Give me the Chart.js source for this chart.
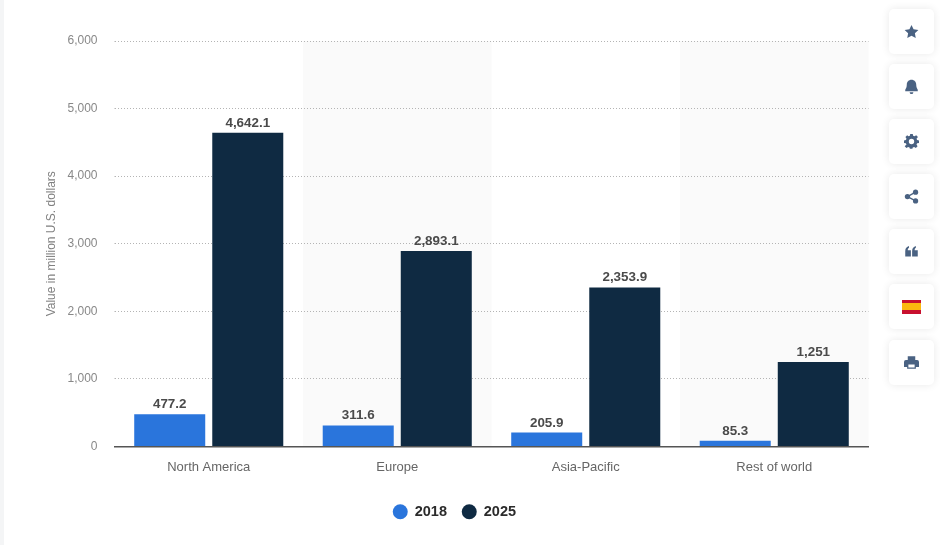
<!DOCTYPE html>
<html>
<head>
<meta charset="utf-8">
<title>Value by region</title>
<script src="https://cdn.jsdelivr.net/npm/chart.js@4"></script>
<style>
  html, body { margin: 0; padding: 0; background: #fff; width: 940px; height: 545px; overflow: hidden; }
  #strip { position: absolute; left: 0; top: 0; width: 4px; height: 545px; background: #f4f5f6; }
  #wrap { position: absolute; left: 0; top: 0; width: 940px; height: 545px; }
  .btn {
    position: absolute; left: 889px; width: 45px; height: 45px; background: #fff; border-radius: 5px;
    box-shadow: 0 0 8px rgba(0, 0, 0, .09); display: flex; align-items: center; justify-content: center;
  }
  .btn svg { width: 15px; height: 15px; fill: #4a6282; display: block; }
  .flag { width: 19px; height: 14px; background: linear-gradient(#c8102e 0 25%, #fbb80f 25% 75%, #c8102e 75% 100%); }
</style>
</head>
<body>
<div id="strip"></div>
<div id="wrap"><canvas id="grafico"></canvas></div>

<div class="btn" style="top:9px"><svg viewBox="0 0 24 24"><path d="M12 1.5l3.3 7 7.7 1-5.6 5.3 1.4 7.7-6.8-3.8-6.8 3.8 1.4-7.7L1 9.500l7.700-1z"/></svg></div>
<div class="btn" style="top:64px"><svg viewBox="0 0 24 24"><path d="M12 1c-4.500 0-7.500 3.500-7.500 7.500 0 5-1.500 7-2.500 8.500v2.500h20V17c-1-1.500-2.500-3.500-2.500-8.500C19.500 4.500 16.500 1 12 1zM9 21a3 3 0 0 0 6 0z"/></svg></div>
<div class="btn" style="top:119px"><svg viewBox="0 0 24 24"><path fill-rule="evenodd" d="M10 1h4l.6 3 2.300 1 2.600-1.700 2.800 2.800L20 8.700l1 2.300 3 .6v4l-3 .6-1 1.900 1.700 2.700-2.800 2.800-2.600-1.700-2.300 1-.6 2.100h-4l-.6-2.100-2.300-1-2.600 1.700-2.800-2.800L4 18.100l-1-1.900-3-.6v-4l3-.6 1-2.300-1.700-2.600 2.800-2.800L7.100 5l2.300-1zM12 9a4.300 4.300 0 1 0 0 8.600A4.300 4.300 0 0 0 12 9z" transform="translate(0 -1.300)"/></svg></div>
<div class="btn" style="top:174px"><svg viewBox="0 0 24 24"><circle cx="18.500" cy="5" r="4.200"/><circle cx="5.500" cy="12" r="4.200"/><circle cx="18.500" cy="19" r="4.200"/><path d="M5 11L18 4l1 2-13 7zM6 11l13 7-1 2L5 13z"/></svg></div>
<div class="btn" style="top:229px"><svg viewBox="0 0 24 24"><path d="M2 20V11c0-4.500 2.500-7 6-8v3C6.500 6.700 6 8 6 10h5v10zM13 20V11c0-4.500 2.500-7 6-8v3c-1.500.7-2 2-2 4h5v10z"/></svg></div>
<div class="btn" style="top:284px"><div class="flag"></div></div>
<div class="btn" style="top:340px"><svg viewBox="0 0 24 24"><path fill-rule="evenodd" d="M6 2h12v6H6zM3 8h18a3 3 0 0 1 3 3v8h-5v3H5v-3H0v-8a3 3 0 0 1 3-3zM7 15v5h10v-5z"/></svg></div>

<script>
// dados
const regioes = ['North America', 'Europe', 'Asia-Pacific', 'Rest of world'];
const valores2018 = [477.2, 311.6, 205.9, 85.3];
const valores2025 = [4642.1, 2893.1, 2353.9, 1251];
const rotulos2018 = ['477.2', '311.6', '205.9', '85.3'];
const rotulos2025 = ['4,642.1', '2,893.1', '2,353.9', '1,251'];
const anos = ['2018', '2025'];

const fonte = "'Liberation Sans', Arial, sans-serif";

// faixas cinza atrás das categorias pares
const faixas = {
    id: 'faixas',
    beforeDraw(chart) {
        const { ctx, chartArea, scales } = chart;
        const passo = scales.x.getPixelForValue(1) - scales.x.getPixelForValue(0);
        ctx.save();
        ctx.fillStyle = '#fafafa';
        regioes.forEach((r, i) => {
            if (i % 2 === 1) {
                ctx.fillRect(scales.x.getPixelForValue(i) - passo / 2, chartArea.top, passo, chartArea.height);
            }
        });
        ctx.restore();
    }
};

// valores em cima das barras
const rotulos = {
    id: 'rotulos',
    afterDatasetsDraw(chart) {
        const { ctx } = chart;
        const textos = [rotulos2018, rotulos2025];
        ctx.save();
        ctx.font = 'bold 13.4px ' + fonte;
        ctx.fillStyle = '#4a4a4a';
        ctx.textAlign = 'center';
        ctx.textBaseline = 'bottom';
        chart.data.datasets.forEach((ds, d) => {
            chart.getDatasetMeta(d).data.forEach((barra, i) => {
                ctx.fillText(textos[d][i], barra.x, barra.y - 3);
            });
        });
        ctx.restore();
    }
};

new Chart(document.getElementById('grafico'), {
    type: 'bar',
    data: {
        labels: regioes,
        datasets: [
            { label: anos[0], data: valores2018, backgroundColor: '#2a75dc' },
            { label: anos[1], data: valores2025, backgroundColor: '#0f2a42' }
        ]
    },
    options: {
        responsive: true,
        maintainAspectRatio: false,
        animation: false,
        categoryPercentage: 0.828,
        barPercentage: 0.91,
        layout: { padding: { left: 40.5, right: 71.5, top: 41, bottom: 16 } },
        scales: {
            x: {
                grid: { display: false },
                border: { color: '#555', width: 1.5 },
                ticks: { color: '#666', font: { family: fonte, size: 13 }, padding: 5 },
                afterFit(scale) { scale.height = 43; }
            },
            y: {
                min: 0,
                max: 6000,
                afterFit(scale) { scale.width = 74; },
                title: { display: true, text: 'Value in million U.S. dollars', color: '#808080', font: { family: fonte, size: 12 }, padding: { bottom: 8 } },
                border: { display: false, dash: [1, 2] },
                grid: { color: '#b4b4b4', tickLength: 0 },
                ticks: {
                    stepSize: 1000,
                    color: '#888',
                    padding: 17,
                    font: { family: fonte, size: 12 },
                    callback: (v) => v.toLocaleString('en-US')
                }
            }
        },
        plugins: {
            tooltip: { enabled: false },
            legend: {
                position: 'bottom',
                onClick: null,
                labels: {
                    usePointStyle: true,
                    pointStyle: 'circle',
                    boxHeight: 10.6,
                    color: '#2b2b2b',
                    padding: 15,
                    font: { family: fonte, size: 14.5, weight: 'bold' }
                }
            }
        }
    },
    plugins: [faixas, rotulos]
});
</script>
</body>
</html>
